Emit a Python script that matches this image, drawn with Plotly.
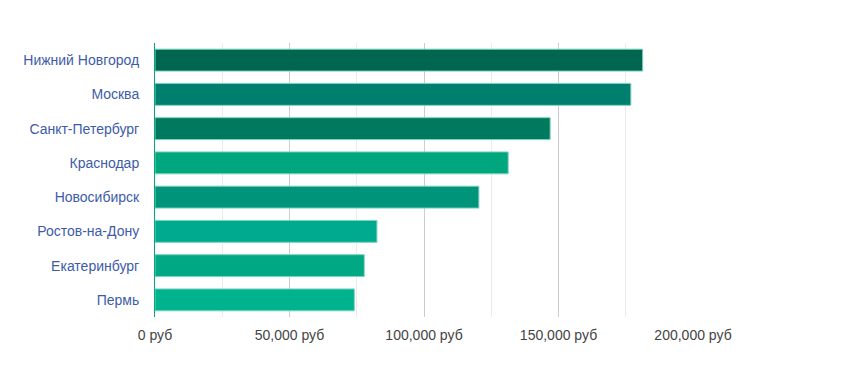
import plotly.graph_objects as go

cities = ["Нижний Новгород", "Москва", "Санкт-Петербург", "Краснодар",
          "Новосибирск", "Ростов-на-Дону", "Екатеринбург", "Пермь"]
values = [181300, 176900, 146900, 131300, 120400, 82500, 77800, 74100]
colors = ["#006650", "#007e6e", "#007a5e", "#00a67e",
          "#00957b", "#00aa8f", "#00a984", "#00b38f"]
tick_vals = [0, 50000, 100000, 150000, 200000]
tick_text = ["0 руб", "50,000 руб", "100,000 руб", "150,000 руб", "200,000 руб"]

fig = go.Figure(go.Bar(
    x=values, y=cities, orientation="h",
    marker=dict(color=colors, line=dict(color="#7fd3bf", width=1)),
    hovertemplate="%{y}: %{x:,} руб<extra></extra>",
))

# the page body adds an 8px offset; margins compensate for it
fig.update_layout(
    width=847, height=390,
    margin=dict(l=147, r=162, t=35, b=81),
    paper_bgcolor="white", plot_bgcolor="white",
    font=dict(family="Liberation Sans, Arial, sans-serif", size=14),
    bargap=0.36,
    showlegend=False,
)
fig.update_xaxes(
    range=[0, 200000], tickvals=tick_vals, ticktext=tick_text,
    showgrid=True, gridcolor="#cccccc", gridwidth=1,
    minor=dict(dtick=25000, showgrid=True, gridcolor="#ebebeb"),
    zeroline=False, showline=False,
    tickfont=dict(color="#444444", size=14),
    ticklabelstandoff=8,
)
fig.update_yaxes(
    categoryorder="array", categoryarray=cities[::-1],
    showline=True, linecolor="#00a67e", linewidth=1,
    showgrid=False, tickfont=dict(color="#3d5ca8", size=14),
    ticklabelstandoff=12,
)

fig.write_html("out.html")
